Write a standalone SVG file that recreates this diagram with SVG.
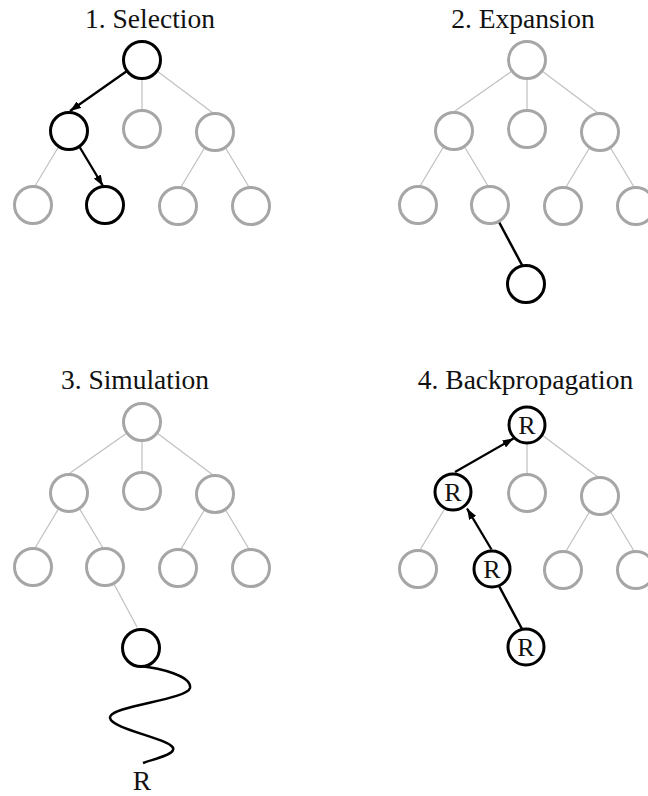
<svg xmlns="http://www.w3.org/2000/svg" width="648" height="796" viewBox="0 0 648 796">
  <style>
    .title { font-family: "Liberation Serif", "Times New Roman", serif; font-size: 27.5px; fill: #111; text-anchor: middle; }
    .lbl { font-family: "Liberation Serif", "Times New Roman", serif; font-size: 26px; fill: #111; text-anchor: middle; }
    .n { fill: #fff; stroke: #a6a6a6; stroke-width: 3; }
    .n.on { stroke: #000; }
    .e { stroke: #c0c0c0; stroke-width: 1.2; fill: none; }
    .b { stroke: #000; stroke-width: 2.5; fill: none; }
    .a { stroke: #000; stroke-width: 2.3; fill: none; marker-end: url(#head); }
  </style>
  <defs>
    <marker id="head" viewBox="0 0 11 8" refX="11" refY="4" markerWidth="11" markerHeight="8" markerUnits="userSpaceOnUse" orient="auto">
      <path d="M0,0 L11,4 L0,8 z" fill="#000"/>
    </marker>
  </defs>
  <rect width="648" height="796" fill="#fff"/>

  <!-- step titles -->
  <text class="title" x="150" y="28">1. Selection</text>
  <text class="title" x="523" y="28">2. Expansion</text>
  <text class="title" x="135" y="389">3. Simulation</text>
  <text class="title" x="525.5" y="389">4. Backpropagation</text>

  <!-- 1. Selection -->
  <g id="selection">
    <g id="sel-edges">
      <line class="e" x1="142" y1="78.5" x2="142" y2="110.5"/>
      <line class="e" x1="157" y1="71" x2="213" y2="113"/>
      <line class="e" x1="59" y1="146" x2="35" y2="186"/>
      <line class="e" x1="205" y1="147" x2="181" y2="187"/>
      <line class="e" x1="225" y1="147" x2="249" y2="187"/>
      <line class="a" x1="127" y1="71" x2="70" y2="111"/>
      <line class="a" x1="79" y1="146" x2="103" y2="186"/>
    </g>
    <g id="sel-root"><circle class="n on" cx="142" cy="60" r="18.5"/></g>
    <g id="sel-a"><circle class="n on" cx="69" cy="131" r="18.5"/></g>
    <g id="sel-b"><circle class="n" cx="142" cy="129" r="18.5"/></g>
    <g id="sel-c"><circle class="n" cx="215" cy="132" r="18.5"/></g>
    <g id="sel-d"><circle class="n" cx="33" cy="205" r="18.5"/></g>
    <g id="sel-e"><circle class="n on" cx="105" cy="205" r="18.5"/></g>
    <g id="sel-f"><circle class="n" cx="178" cy="206" r="18.5"/></g>
    <g id="sel-g"><circle class="n" cx="251" cy="206" r="18.5"/></g>
  </g>

  <!-- 2. Expansion -->
  <g id="expansion" transform="translate(385,0)">
    <g id="exp-edges">
      <line class="e" x1="127" y1="71" x2="70" y2="111"/>
      <line class="e" x1="142" y1="78.5" x2="142" y2="110.5"/>
      <line class="e" x1="157" y1="71" x2="213" y2="113"/>
      <line class="e" x1="59" y1="146" x2="35" y2="186"/>
      <line class="e" x1="79" y1="146" x2="103" y2="186"/>
      <line class="e" x1="205" y1="147" x2="181" y2="187"/>
      <line class="e" x1="225" y1="147" x2="249" y2="187"/>
      <line class="b" x1="114" y1="222" x2="137" y2="265"/>
    </g>
    <g id="exp-root"><circle class="n" cx="142" cy="60" r="18.5"/></g>
    <g id="exp-a"><circle class="n" cx="69" cy="131" r="18.5"/></g>
    <g id="exp-b"><circle class="n" cx="142" cy="129" r="18.5"/></g>
    <g id="exp-c"><circle class="n" cx="215" cy="132" r="18.5"/></g>
    <g id="exp-d"><circle class="n" cx="33" cy="205" r="18.5"/></g>
    <g id="exp-e"><circle class="n" cx="105" cy="205" r="18.5"/></g>
    <g id="exp-f"><circle class="n" cx="178" cy="206" r="18.5"/></g>
    <g id="exp-g"><circle class="n" cx="251" cy="206" r="18.5"/></g>
    <g id="exp-new"><circle class="n on" cx="141" cy="284" r="18.5"/></g>
  </g>

  <!-- 3. Simulation -->
  <g id="simulation" transform="translate(0,362)">
    <g id="sim-edges">
      <line class="e" x1="127" y1="71" x2="70" y2="111"/>
      <line class="e" x1="142" y1="78.5" x2="142" y2="110.5"/>
      <line class="e" x1="157" y1="71" x2="213" y2="113"/>
      <line class="e" x1="59" y1="146" x2="35" y2="186"/>
      <line class="e" x1="79" y1="146" x2="103" y2="186"/>
      <line class="e" x1="205" y1="147" x2="181" y2="187"/>
      <line class="e" x1="225" y1="147" x2="249" y2="187"/>
      <line class="e" x1="114" y1="222" x2="137" y2="265"/>
      <!-- random playout -->
      <path class="b" d="M140,304 C160,306 192,314 190,326 C187,338 108,344 110,356 C112,368 178,378 173,388 C171,394 150,398 143,401"/>
    </g>
    <g id="sim-root"><circle class="n" cx="142" cy="60" r="18.5"/></g>
    <g id="sim-a"><circle class="n" cx="69" cy="131" r="18.5"/></g>
    <g id="sim-b"><circle class="n" cx="142" cy="129" r="18.5"/></g>
    <g id="sim-c"><circle class="n" cx="215" cy="132" r="18.5"/></g>
    <g id="sim-d"><circle class="n" cx="33" cy="205" r="18.5"/></g>
    <g id="sim-e"><circle class="n" cx="105" cy="205" r="18.5"/></g>
    <g id="sim-f"><circle class="n" cx="178" cy="206" r="18.5"/></g>
    <g id="sim-g"><circle class="n" cx="251" cy="206" r="18.5"/></g>
    <g id="sim-new"><circle class="n on" cx="141" cy="286" r="18.5"/></g>
    <g id="sim-result"><text class="title" x="142" y="428">R</text></g>
  </g>

  <!-- 4. Backpropagation -->
  <g id="backpropagation" transform="translate(385,364)">
    <g id="bp-edges">
      <line class="e" x1="142" y1="78.5" x2="142" y2="110.5"/>
      <line class="e" x1="157" y1="71" x2="213" y2="113"/>
      <line class="e" x1="59" y1="146" x2="35" y2="186"/>
      <line class="e" x1="205" y1="147" x2="181" y2="187"/>
      <line class="e" x1="225" y1="147" x2="249" y2="187"/>
      <line class="b" x1="137" y1="265" x2="114" y2="222"/>
      <line class="a" x1="106.5" y1="185.5" x2="82" y2="144.5"/>
      <line class="a" x1="70" y1="108" x2="128.5" y2="74.5"/>
    </g>
    <g id="bp-root"><circle class="n on" cx="142" cy="61" r="18"/><text class="lbl" x="142" y="70">R</text></g>
    <g id="bp-a"><circle class="n on" cx="68" cy="128" r="18"/><text class="lbl" x="68" y="137">R</text></g>
    <g id="bp-b"><circle class="n" cx="142" cy="129" r="18.5"/></g>
    <g id="bp-c"><circle class="n" cx="215" cy="132" r="18.5"/></g>
    <g id="bp-d"><circle class="n" cx="33" cy="205" r="18.5"/></g>
    <g id="bp-e"><circle class="n on" cx="107" cy="205" r="18"/><text class="lbl" x="107" y="214">R</text></g>
    <g id="bp-f"><circle class="n" cx="178" cy="206" r="18.5"/></g>
    <g id="bp-g"><circle class="n" cx="251" cy="206" r="18.5"/></g>
    <g id="bp-new"><circle class="n on" cx="141" cy="283" r="18"/><text class="lbl" x="141" y="292">R</text></g>
  </g>
</svg>
